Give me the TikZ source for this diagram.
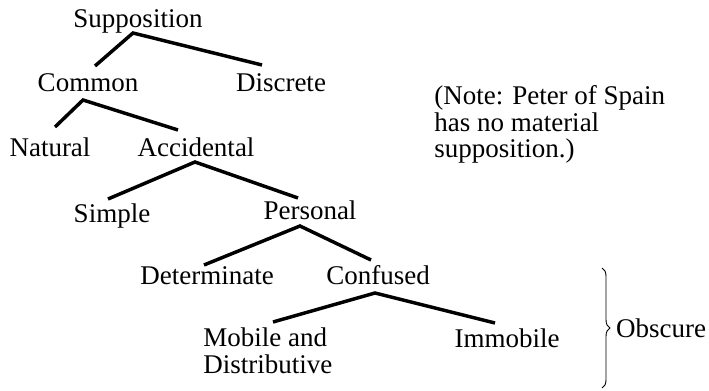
\documentclass[tikz,border=0pt]{standalone}
\usepackage{fontspec}
\setmainfont{Liberation Serif}
\usetikzlibrary{calc, decorations.pathreplacing}
\tikzset{
    every node/.style={inner sep=0pt, font=\fontsize{20.25}{19.9}\selectfont},
    term/.style={anchor=base},
    branch/.style={line width=2.6pt},
    bracket/.style={decorate, decoration={brace, amplitude=6pt}, line width=0.7pt},
}
\begin{document}
\begin{tikzpicture}[x=0.75pt, y=-0.75pt]
    \useasboundingbox (0, 0) rectangle (709, 391);
    \node[term] (sup) at (138, 28) {Supposition};
    \node[term] (com) at (88, 92) {Common};
    \node[term] (dis) at (281, 92) {Discrete};
    \node[term] (nat) at (50, 157) {Natural};
    \node[term] (acc) at (196, 157) {Accidental};
    \node[term] (sim) at (112, 223) {Simple};
    \node[term] (per) at (310, 220) {Personal};
    \node[term] (det) at (207, 285) {Determinate};
    \node[term] (con) at (378, 285) {Confused};
    \node[anchor=base west, align=left] (mob) at (203, 373) {Mobile and\\Distributive};
    \node[term] (imm) at (507, 347) {Immobile};
    \node[anchor=base west, align=left] (note) at (434, 158)
        {(Note: Peter of Spain\\has no material\\supposition.)};
    \draw[branch] ($(com.base)+(7, -26)$) -- ($(sup.base)+(-5, 5)$)
        -- ($(dis.base)+(-19, -27)$);
    \draw[branch] ($(nat.base)+(5, -30)$) -- ($(com.base)+(-5, 8)$)
        -- ($(acc.base)+(-18, -27)$);
    \draw[branch] ($(sim.base)+(-4, -24)$) -- ($(acc.base)+(-1, 5)$)
        -- ($(per.base)+(-12, -22)$);
    \draw[branch] ($(det.base)+(-3, -20)$) -- ($(per.base)+(-10, 6)$)
        -- ($(con.base)+(-7, -25)$);
    \draw[branch] ($(mob.base west)+(70, -51)$) -- ($(con.base)+(-3, 8)$)
        -- ($(imm.base)+(-12, -24)$);
    \coordinate (brtop) at (602, 268);
    \coordinate (brbot) at (602, 388);
    \draw[bracket] (brtop) -- (brbot);
    \node[term] (obs) at (661, 337) {Obscure};
\end{tikzpicture}
\end{document}
